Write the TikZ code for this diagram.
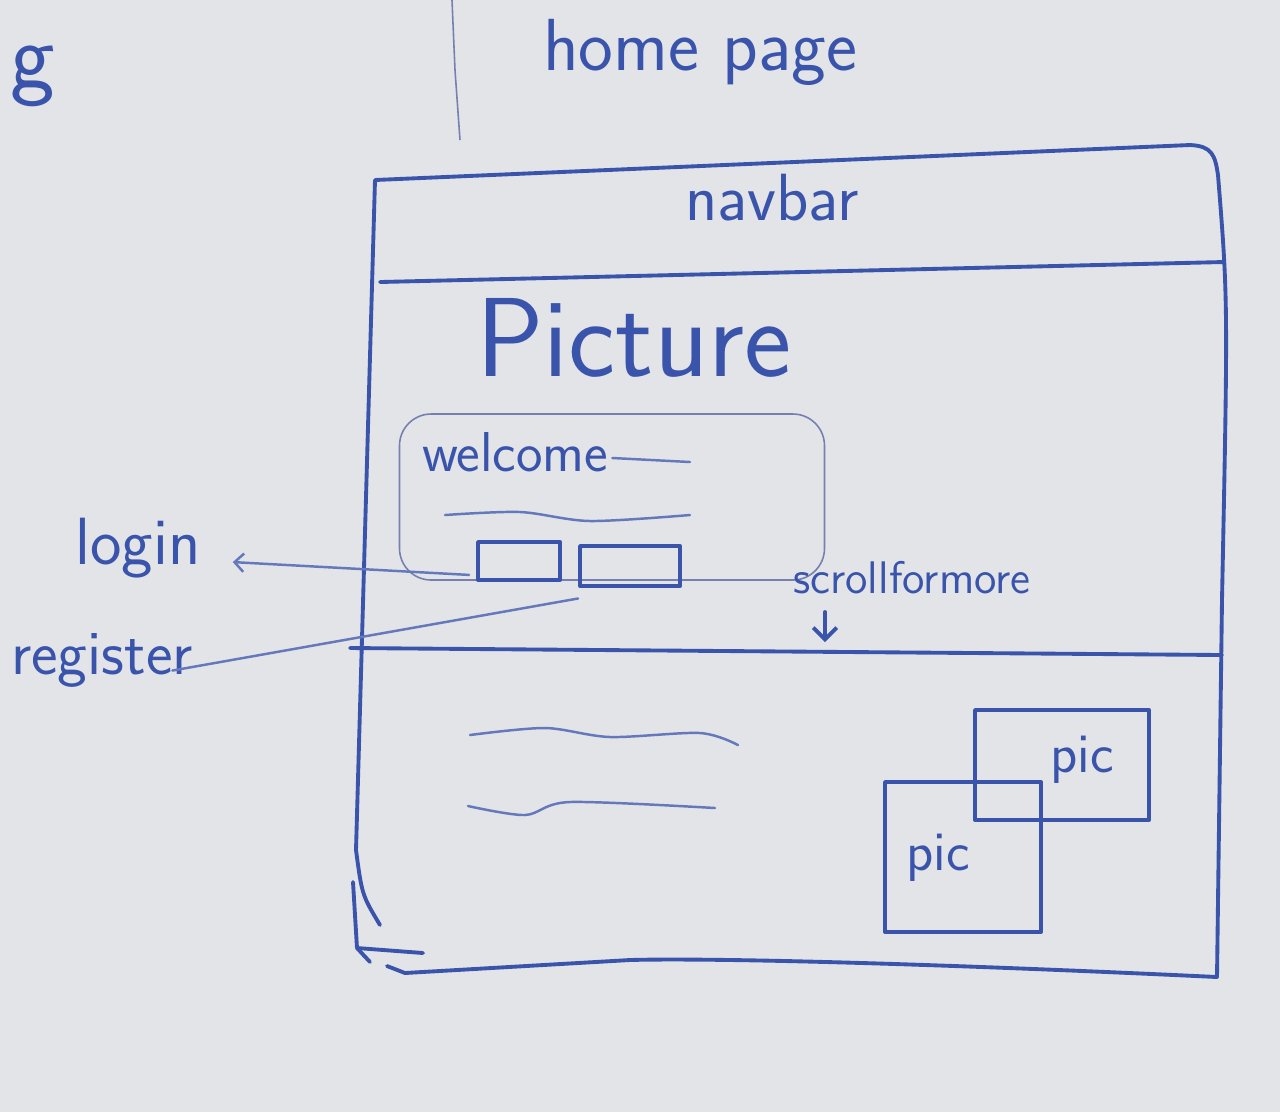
\documentclass[tikz,border=0pt]{standalone}
\usetikzlibrary{positioning}
\usetikzlibrary{arrows.meta}
\tikzset{>={Straight Barb[scale=.9]}}
\definecolor{pen}{RGB}{58,84,172}
\definecolor{pencil}{RGB}{118,128,176}
\definecolor{paper}{RGB}{226,228,232}
\tikzset{
  ink/.style={draw=pen, line width=1.1pt, line cap=round, line join=round},
  thinink/.style={draw=pen!75!paper, line width=.7pt, line cap=round},
  faint/.style={draw=pencil, line width=.45pt},
  hand/.style={text=pen, inner sep=1pt, font=\sffamily},
  btn/.style={ink, minimum height=.38cm, inner sep=0pt},
  picbox/.style={ink, inner sep=0pt},
}

\begin{document}
\begin{tikzpicture}[x=.1mm, y=-.1mm]
      % paper
      \fill[paper] (0,0) rectangle (1280,1112);
      \useasboundingbox (0,0) rectangle (1280,1112);
      % previous sheet
      \node[hand, anchor=west, font=\sffamily\fontsize{27}{30}\selectfont] (prev) at (6,76) {g};
      \draw[faint] (452,0) -- (455,70) -- (460,140);
      % title
      \node[hand, font=\sffamily\fontsize{21}{24}\selectfont] (title) at (700,52) {home page};
      % frame
      \draw[ink] (380,925) .. controls (362,895) .. (356,850) -- (375,180) -- (1190,145)
        .. controls (1212,146) and (1215,155) .. (1218,175)
        .. controls (1228,300) .. (1222,600) -- (1217,977)
        .. controls (900,962) and (700,958) .. (630,960) -- (405,973) -- (387,966);
      \draw[ink] (353,882) -- (357,948) -- (423,953);
      \draw[ink] (357,948) -- (370,962);
      \draw[ink] (380,282) -- (1224,262);
      \draw[ink] (350,648) -- (1222,655);
      \node[hand, font=\sffamily\fontsize{19}{22}\selectfont] (navbar) at (772,198) {navbar};
      % picture block
      \node[hand, font=\sffamily\fontsize{32}{36}\selectfont] (picture) at (634,338) {Picture};
      \node[faint, rounded corners=9pt, minimum width=4.25cm, minimum height=1.66cm]
        (welcomebox) at (612,497) {};
      \node[hand, font=\sffamily\fontsize{16}{18}\selectfont, anchor=west] (welcome) at (418,452) {welcome};
      \draw[thinink] (welcome.east) ++(0,6) -- (690,462);
      \draw[thinink] plot[smooth] coordinates {(445,515) (520,512) (590,521) (690,515)};
      \node[btn, minimum width=.82cm] (loginbtn) at (519,561) {};
      \node[btn, minimum width=1cm, minimum height=.4cm] (registerbtn) at (630,566) {};
      % links
      \node[hand, font=\sffamily\fontsize{19}{22}\selectfont] (login) at (138,548) {login};
      \node[hand, font=\sffamily\fontsize{18}{21}\selectfont] (register) at (102,660) {register};
      \draw[thinink, ->] ([xshift=-2pt, yshift=2pt]loginbtn.south west)
        -- ([xshift=8pt, yshift=-4pt]login.east);
      \draw[thinink] ([yshift=-3pt]registerbtn.south west)
        -- ([xshift=-7pt, yshift=-3pt]register.east);
      % scroll hint
      \node[hand, font=\sffamily\fontsize{13}{15}\selectfont] (scroll) at (912,578) {scrollformore};
      \coordinate (scrollfrom) at (825,612);
      \coordinate (scrollto) at (825,642);
      \draw[ink, ->] (scrollfrom) -- (scrollto);
      % lower section
      \draw[thinink] plot[smooth] coordinates {(470,735) (545,728) (610,737) (700,733) (738,745)};
      \draw[thinink] plot[smooth] coordinates {(468,806) (525,815) (570,802) (715,808)};
      \node[picbox, minimum width=1.74cm, minimum height=1.1cm] (picback) at (1062,765) {};
      \node[picbox, minimum width=1.56cm, minimum height=1.5cm] (picfront) at (963,857) {};
      \node[hand, font=\sffamily\fontsize{16}{18}\selectfont] (picone) at (1082,760) {pic};
      \node[hand, font=\sffamily\fontsize{16}{18}\selectfont] (pictwo) at (938,858) {pic};
\end{tikzpicture}
\end{document}
